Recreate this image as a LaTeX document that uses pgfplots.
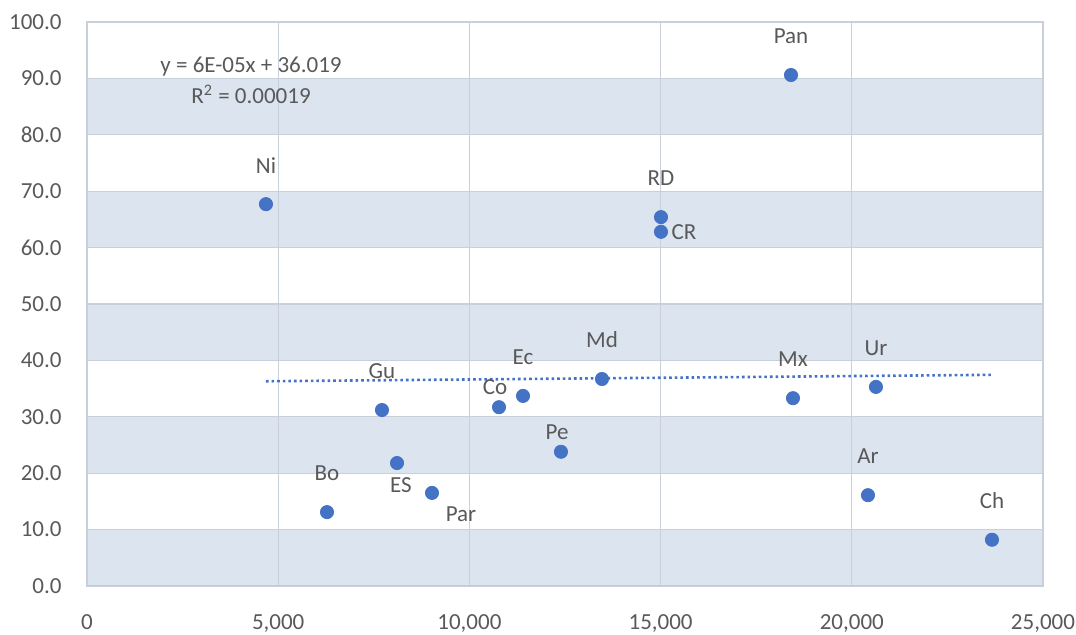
\documentclass[border=0pt]{standalone}
\usepackage{fontspec}
\setmainfont{Carlito}
\usepackage{pgfplots}
\usepackage{pgfplotstable}
\pgfplotsset{compat=1.18}

\definecolor{dotblue}{RGB}{68,114,196}
\definecolor{band}{RGB}{220,228,240}
\definecolor{gridc}{RGB}{202,208,218}
\definecolor{txt}{RGB}{89,89,89}

% points grouped by where the label sits
\pgfplotstableread{
x y lab
4680 67.7 Ni
6276 13.1 Bo
7714 31.2 Gu
11402 33.7 Ec
13467 36.7 Md
15010 65.4 RD
18410 90.6 Pan
18462 33.3 Mx
20632 35.3 Ur
20423 16.1 Ar
23666 8.2 Ch
}\above
\pgfplotstableread{
x y lab
10774 31.7 Co
12395 23.8 Pe
}\near
\pgfplotstableread{
x y lab
8107 21.8 ES
}\below
\pgfplotstableread{
x y lab
9022 16.5 Par
}\belowright
\pgfplotstableread{
x y lab
15010 62.8 CR
}\right

\pgfplotsset{
  pts/.style 2 args={only marks, mark=*, mark size=3.3pt,
    mark options={draw=dotblue, fill=dotblue},
    point meta=explicit symbolic, nodes near coords,
    nodes near coords style={txt, anchor=center, inner sep=0pt,
      font=\fontsize{11.5}{13}\selectfont, xshift=#1, yshift=#2}},
}

\begin{document}
\fontsize{11.5}{15.5}\selectfont
\begin{tikzpicture}
\begin{axis}[
  name=ax,
  set layers,
  scale only axis,
  width=478pt, height=282pt,
  xmin=0, xmax=25000, ymin=0, ymax=100,
  xtick={0,5000,...,25000},
  ytick={0,10,...,100},
  major tick length=0pt,
  grid=major,
  grid style={gridc, line width=0.6pt},
  axis line style={gridc, line width=0.6pt},
  tick label style={txt, inner sep=0pt, font=\fontsize{11.5}{13}\selectfont},
  /pgf/number format/assume math mode=true,
  xticklabel style={/pgf/number format/1000 sep={,}, yshift=-14pt},
  yticklabel style={/pgf/number format/.cd, fixed, fixed zerofill, precision=1, /tikz/.cd, xshift=-12.5pt},
  scaled x ticks=false,
]
\begin{pgfonlayer}{axis background}
\fill[band] (axis cs:0,0) rectangle (axis cs:25000,10);
\fill[band] (axis cs:0,20) rectangle (axis cs:25000,30);
\fill[band] (axis cs:0,40) rectangle (axis cs:25000,50);
\fill[band] (axis cs:0,60) rectangle (axis cs:25000,70);
\fill[band] (axis cs:0,80) rectangle (axis cs:25000,90);
\end{pgfonlayer}
\draw[gridc!80!black!60, line width=0.8pt] (axis cs:0,0) -- (axis cs:25000,0);

\addplot[dotblue, line width=1.3pt, dash pattern=on 1.3pt off 1.5pt]
  coordinates {(4680,36.30) (23666,37.44)};

\addplot[pts={0pt}{19.5pt}] table[x=x, y=y, meta=lab] {\above};
\addplot[pts={-2pt}{10pt}] table[x=x, y=y, meta=lab] {\near};
\addplot[pts={2pt}{-11pt}] table[x=x, y=y, meta=lab] {\below};
\addplot[pts={14.5pt}{-10.5pt}] table[x=x, y=y, meta=lab] {\belowright};
\addplot[pts={11.5pt}{0pt}] table[x=x, y=y, meta=lab] {\right};

\node[txt, align=center, font=\fontsize{11.5}{15.5}\selectfont]
  at (axis cs:4290,89.6) {y = 6E-05x + 36.019\\R\textsuperscript{2} = 0.00019};
\end{axis}
\path (ax.south west) ++(-43.5pt,-24.5pt) coordinate (bbl);
\path (ax.north east) ++(16.5pt,11pt) coordinate (btr);
\path (bbl) rectangle (btr);
\end{tikzpicture}
\end{document}
